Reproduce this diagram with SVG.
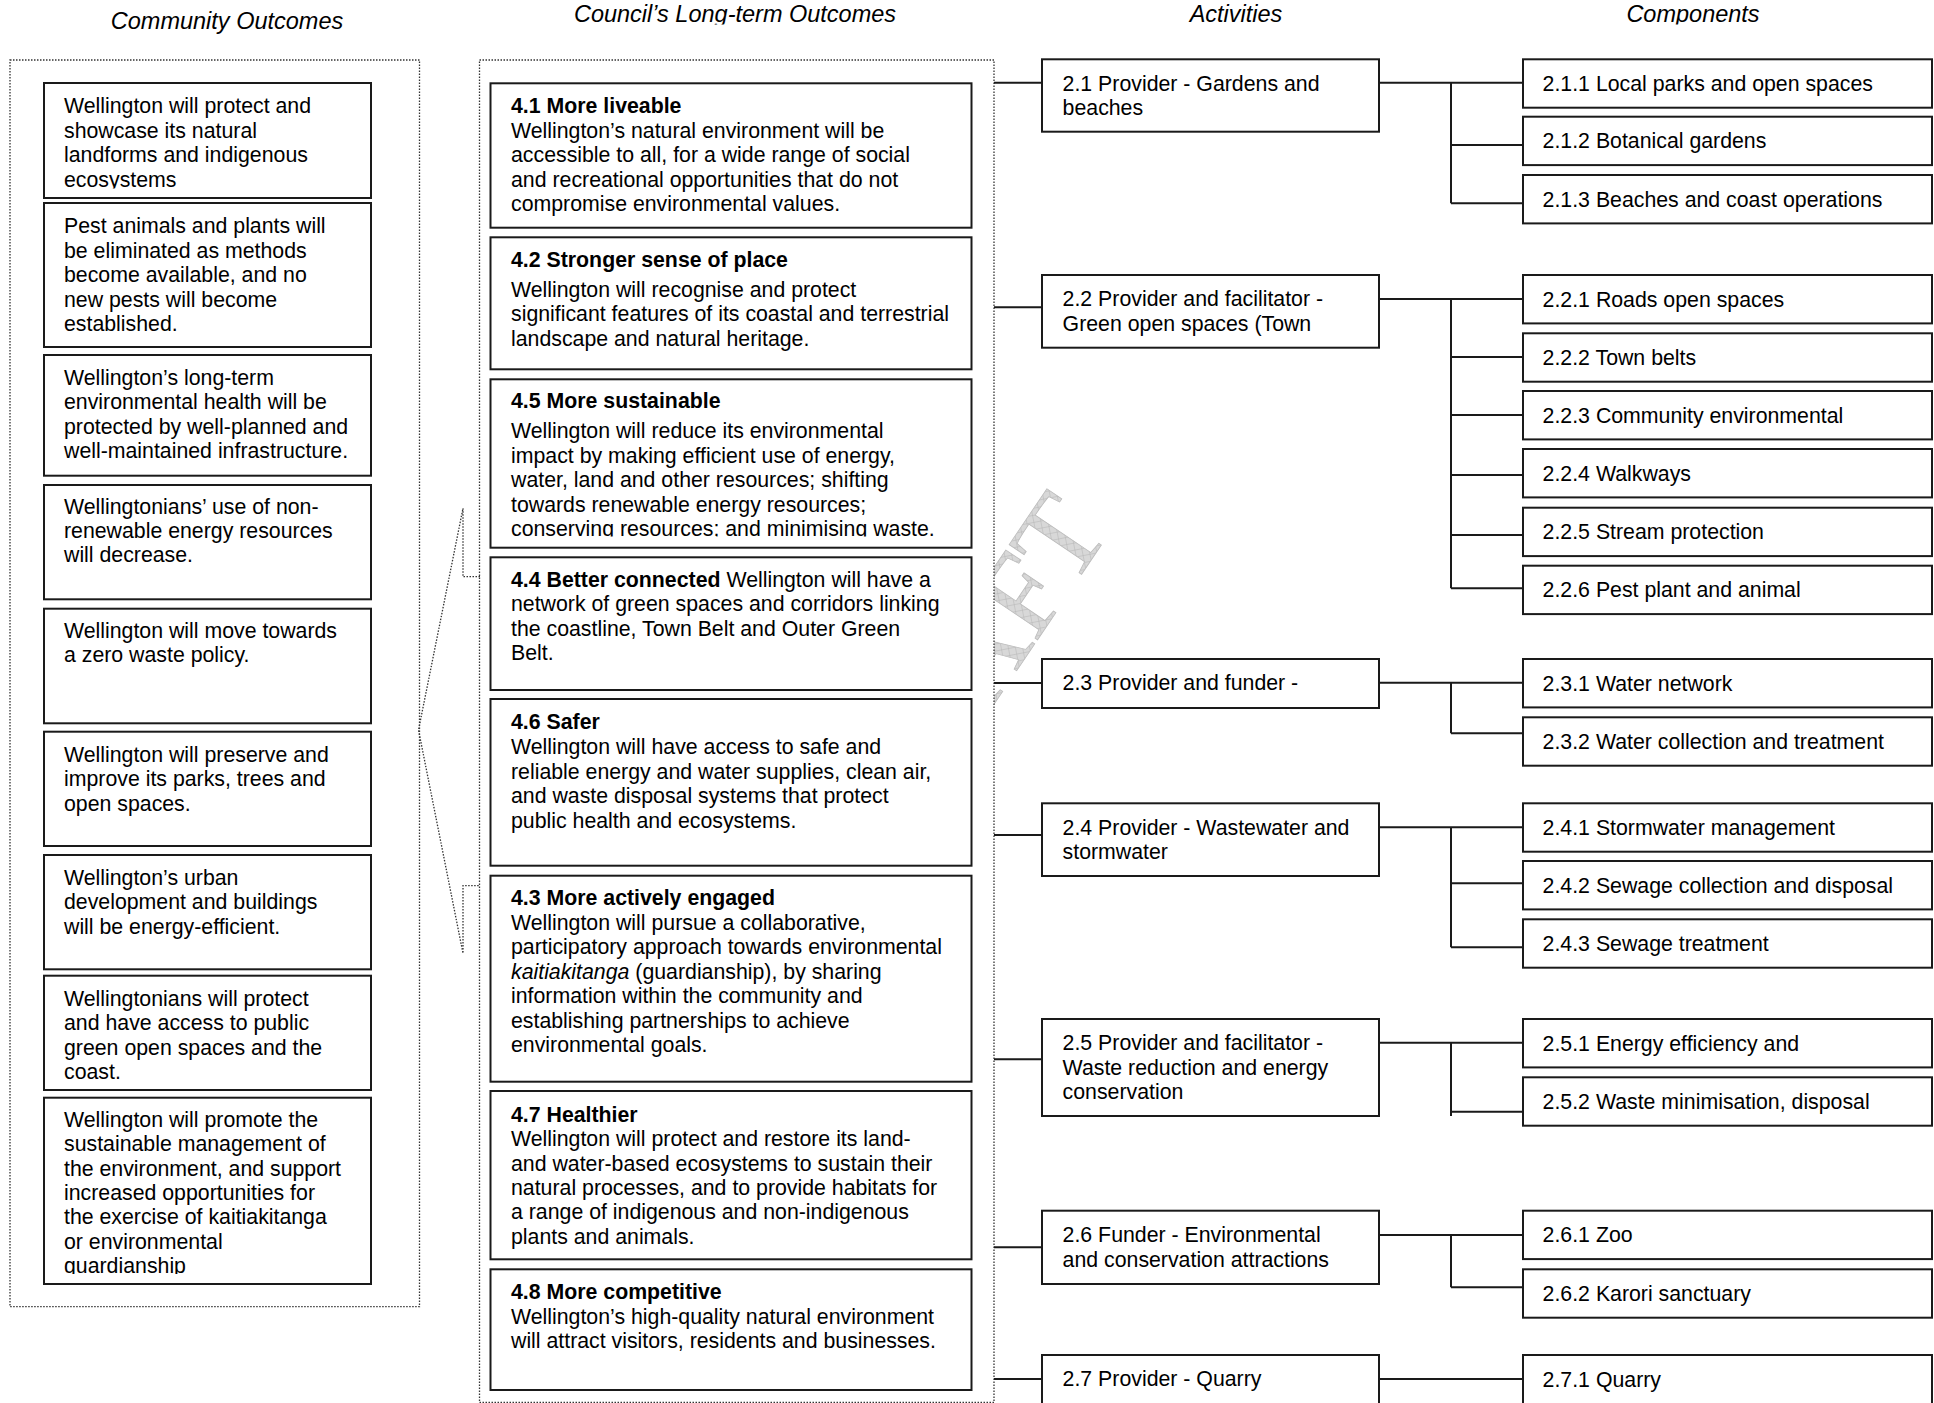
<svg xmlns="http://www.w3.org/2000/svg" width="1934" height="1403" viewBox="0 0 1934 1403">
<style>
.box{fill:#fff;stroke:#1a1a1a;stroke-width:2}
.dash{fill:#fff;stroke:#333;stroke-width:1.3;stroke-dasharray:1.5 1.5}
.dl{fill:none;stroke:#333;stroke-width:1.3;stroke-dasharray:1.5 1.5}
.t{font-family:"Liberation Sans",Arial,sans-serif;font-size:21.3px;fill:#000}
.b{font-weight:bold}
.h{font-family:"Liberation Sans",Arial,sans-serif;font-size:23.5px;font-style:italic;text-anchor:middle;fill:#000}
.conn{fill:none;stroke:#1a1a1a;stroke-width:2}
</style>
<defs>
<pattern id="hatch" width="7" height="7" patternUnits="userSpaceOnUse" patternTransform="rotate(45)">
<rect width="7" height="7" fill="#d8d8d8"/>
<path d="M0 0H7M0 0V7" stroke="#b4b4b4" stroke-width="1"/>
</pattern>
<clipPath id="cTitle"><rect x="0" y="0" width="1934" height="24.5"/></clipPath>
<clipPath id="cC1"><rect x="40" y="83" width="340" height="105.5"/></clipPath>
<clipPath id="cM5"><rect x="490" y="379" width="482" height="157.5"/></clipPath>
<clipPath id="cC9"><rect x="40" y="1097" width="340" height="177"/></clipPath>
</defs>

<!-- watermark -->
<text id="watermark" transform="translate(897,848) rotate(-56)" font-family="Liberation Serif,serif" font-size="117" fill="url(#hatch)" stroke="#bcbcbc" stroke-width="0.8">DRAFT</text>

<!-- column titles -->
<g id="titles">
<text class="h" x="227" y="29">Community Outcomes</text>
<g clip-path="url(#cTitle)">
<text class="h" x="735" y="21.5">Council’s Long-term Outcomes</text>
<text class="h" x="1236" y="21.5">Activities</text>
<text class="h" x="1693" y="21.5">Components</text>
</g>
</g>

<!-- containers -->
<rect id="community-container" class="dash" x="10" y="60" width="409.5" height="1246.7"/>
<rect id="council-container" class="dash" x="479.5" y="60" width="514.5" height="1342.5"/>

<!-- connectors -->
<g id="connectors">
<polyline class="dl" points="480,576.7 463,576.7 463,508.3 418.5,730 463,953.3 463,885.7 480,885.7"/>
<path class="conn" d="M994 82.7H1042M994 307.3H1042M994 683H1042M994 835H1042M994 1059.3H1042M994 1247.3H1042M994 1379H1042"/>
<path class="conn" d="M1379 82.7H1523M1451 82.7V203.3M1451 145H1523M1451 203.3H1523"/>
<path class="conn" d="M1379 299H1523M1451 299V588.3M1451 357H1523M1451 415H1523M1451 475H1523M1451 535H1523M1451 588.3H1523"/>
<path class="conn" d="M1379 682.7H1523M1451 682.7V733.3M1451 733.3H1523"/>
<path class="conn" d="M1379 827.3H1523M1451 827.3V947.3M1451 883.3H1523M1451 947.3H1523"/>
<path class="conn" d="M1379 1042.7H1523M1451 1042.7V1116M1451 1111.7H1523"/>
<path class="conn" d="M1379 1235H1523M1451 1235V1287.3M1451 1287.3H1523"/>
<path class="conn" d="M1379 1379H1523"/>
</g>

<!-- community outcomes -->
<g id="co1"><rect class="box" x="44" y="83" width="327" height="115"/>
<g clip-path="url(#cC1)"><text class="t"><tspan x="64" y="113.3">Wellington will protect and</tspan><tspan x="64" y="137.7">showcase its natural</tspan><tspan x="64" y="162.1">landforms and indigenous</tspan><tspan x="64" y="186.5">ecosystems</tspan></text></g></g>
<g id="co2"><rect class="box" x="44" y="203" width="327" height="144"/>
<text class="t"><tspan x="64" y="233.3">Pest animals and plants will</tspan><tspan x="64" y="257.7">be eliminated as methods</tspan><tspan x="64" y="282.1">become available, and no</tspan><tspan x="64" y="306.5">new pests will become</tspan><tspan x="64" y="330.9">established.</tspan></text></g>
<g id="co3"><rect class="box" x="44" y="355" width="327" height="120.7"/>
<text class="t"><tspan x="64" y="385">Wellington’s long-term</tspan><tspan x="64" y="409.4">environmental health will be</tspan><tspan x="64" y="433.8">protected by well-planned and</tspan><tspan x="64" y="458.2">well-maintained infrastructure.</tspan></text></g>
<g id="co4"><rect class="box" x="44" y="485" width="327" height="114.3"/>
<text class="t"><tspan x="64" y="513.5">Wellingtonians’ use of non-</tspan><tspan x="64" y="537.9">renewable energy resources</tspan><tspan x="64" y="562.3">will decrease.</tspan></text></g>
<g id="co5"><rect class="box" x="44" y="608.7" width="327" height="114.6"/>
<text class="t"><tspan x="64" y="637.7">Wellington will move towards</tspan><tspan x="64" y="662.1">a zero waste policy.</tspan></text></g>
<g id="co6"><rect class="box" x="44" y="731.7" width="327" height="114.3"/>
<text class="t"><tspan x="64" y="761.7">Wellington will preserve and</tspan><tspan x="64" y="786.1">improve its parks, trees and</tspan><tspan x="64" y="810.5">open spaces.</tspan></text></g>
<g id="co7"><rect class="box" x="44" y="855" width="327" height="114.3"/>
<text class="t"><tspan x="64" y="885">Wellington’s urban</tspan><tspan x="64" y="909.4">development and buildings</tspan><tspan x="64" y="933.8">will be energy-efficient.</tspan></text></g>
<g id="co8"><rect class="box" x="44" y="975.7" width="327" height="114.3"/>
<text class="t"><tspan x="64" y="1006">Wellingtonians will protect</tspan><tspan x="64" y="1030.4">and have access to public</tspan><tspan x="64" y="1054.8">green open spaces and the</tspan><tspan x="64" y="1079.2">coast.</tspan></text></g>
<g id="co9"><rect class="box" x="44" y="1097.7" width="327" height="186.3"/>
<g clip-path="url(#cC9)"><text class="t"><tspan x="64" y="1126.7">Wellington will promote the</tspan><tspan x="64" y="1151.1">sustainable management of</tspan><tspan x="64" y="1175.5">the environment, and support</tspan><tspan x="64" y="1199.9">increased opportunities for</tspan><tspan x="64" y="1224.3">the exercise of kaitiakitanga</tspan><tspan x="64" y="1248.7">or environmental</tspan><tspan x="64" y="1273.1">guardianship</tspan></text></g></g>

<!-- council outcomes -->
<g id="lt41"><rect class="box" x="490.5" y="83.3" width="481" height="144.4"/>
<text class="t"><tspan x="511" y="113.3" class="b">4.1 More liveable</tspan><tspan x="511" y="137.7">Wellington’s natural environment will be</tspan><tspan x="511" y="162.1">accessible to all, for a wide range of social</tspan><tspan x="511" y="186.5">and recreational opportunities that do not</tspan><tspan x="511" y="210.9">compromise environmental values.</tspan></text></g>
<g id="lt42"><rect class="box" x="490.5" y="237.3" width="481" height="132"/>
<text class="t"><tspan x="511" y="266.7" class="b">4.2 Stronger sense of place</tspan><tspan x="511" y="296.7">Wellington will recognise and protect</tspan><tspan x="511" y="321.1">significant features of its coastal and terrestrial</tspan><tspan x="511" y="345.5">landscape and natural heritage.</tspan></text></g>
<g id="lt45"><rect class="box" x="490.5" y="379.3" width="481" height="168.4"/>
<g clip-path="url(#cM5)"><text class="t"><tspan x="511" y="408.3" class="b">4.5 More sustainable</tspan><tspan x="511" y="438.3">Wellington will reduce its environmental</tspan><tspan x="511" y="462.7">impact by making efficient use of energy,</tspan><tspan x="511" y="487.1">water, land and other resources; shifting</tspan><tspan x="511" y="511.5">towards renewable energy resources;</tspan><tspan x="511" y="535.9">conserving resources; and minimising waste.</tspan></text></g></g>
<g id="lt44"><rect class="box" x="490.5" y="557.3" width="481" height="132.7"/>
<text class="t"><tspan x="511" y="586.7"><tspan class="b">4.4 Better connected</tspan> Wellington will have a</tspan><tspan x="511" y="611.1">network of green spaces and corridors linking</tspan><tspan x="511" y="635.5">the coastline, Town Belt and Outer Green</tspan><tspan x="511" y="659.9">Belt.</tspan></text></g>
<g id="lt46"><rect class="box" x="490.5" y="699" width="481" height="166.7"/>
<text class="t"><tspan x="511" y="729.3" class="b">4.6 Safer</tspan><tspan x="511" y="754.3">Wellington will have access to safe and</tspan><tspan x="511" y="778.7">reliable energy and water supplies, clean air,</tspan><tspan x="511" y="803.1">and waste disposal systems that protect</tspan><tspan x="511" y="827.5">public health and ecosystems.</tspan></text></g>
<g id="lt43"><rect class="box" x="490.5" y="875.7" width="481" height="206"/>
<text class="t"><tspan x="511" y="905" class="b">4.3 More actively engaged</tspan><tspan x="511" y="930">Wellington will pursue a collaborative,</tspan><tspan x="511" y="954.4">participatory approach towards environmental</tspan><tspan x="511" y="978.8"><tspan font-style="italic">kaitiakitanga</tspan> (guardianship), by sharing</tspan><tspan x="511" y="1003.2">information within the community and</tspan><tspan x="511" y="1027.6">establishing partnerships to achieve</tspan><tspan x="511" y="1052">environmental goals.</tspan></text></g>
<g id="lt47"><rect class="box" x="490.5" y="1091" width="481" height="168.3"/>
<text class="t"><tspan x="511" y="1121.7" class="b">4.7 Healthier</tspan><tspan x="511" y="1146.1">Wellington will protect and restore its land-</tspan><tspan x="511" y="1170.5">and water-based ecosystems to sustain their</tspan><tspan x="511" y="1194.9">natural processes, and to provide habitats for</tspan><tspan x="511" y="1219.3">a range of indigenous and non-indigenous</tspan><tspan x="511" y="1243.7">plants and animals.</tspan></text></g>
<g id="lt48"><rect class="box" x="490.5" y="1269.3" width="481" height="120.7"/>
<text class="t"><tspan x="511" y="1299.3" class="b">4.8 More competitive</tspan><tspan x="511" y="1323.7">Wellington’s high-quality natural environment</tspan><tspan x="511" y="1348.1">will attract visitors, residents and businesses.</tspan></text></g>

<!-- activities -->
<g id="a21"><rect class="box" x="1042" y="59.3" width="337" height="72.4"/><text class="t"><tspan x="1062.6" y="90.7">2.1 Provider - Gardens and</tspan><tspan x="1062.6" y="115">beaches</tspan></text></g>
<g id="a22"><rect class="box" x="1042" y="275" width="337" height="72.7"/><text class="t"><tspan x="1062.6" y="306.3">2.2 Provider and facilitator -</tspan><tspan x="1062.6" y="330.6">Green open spaces (Town</tspan></text></g>
<g id="a23"><rect class="box" x="1042" y="659" width="337" height="49"/><text class="t" x="1062.6" y="690.3">2.3 Provider and funder -</text></g>
<g id="a24"><rect class="box" x="1042" y="803.3" width="337" height="72.7"/><text class="t"><tspan x="1062.6" y="834.6">2.4 Provider - Wastewater and</tspan><tspan x="1062.6" y="858.9">stormwater</tspan></text></g>
<g id="a25"><rect class="box" x="1042" y="1019" width="337" height="97"/><text class="t"><tspan x="1062.6" y="1050.3">2.5 Provider and facilitator -</tspan><tspan x="1062.6" y="1074.6">Waste reduction and energy</tspan><tspan x="1062.6" y="1098.9">conservation</tspan></text></g>
<g id="a26"><rect class="box" x="1042" y="1210.7" width="337" height="73.3"/><text class="t"><tspan x="1062.6" y="1242.2">2.6 Funder - Environmental</tspan><tspan x="1062.6" y="1266.5">and conservation attractions</tspan></text></g>
<g id="a27"><rect class="box" x="1042" y="1355" width="337" height="49"/><text class="t" x="1062.6" y="1386.4">2.7 Provider - Quarry</text></g>

<!-- components -->
<g id="c211"><rect class="box" x="1523" y="59.3" width="409" height="48.4"/><text class="t" x="1542.6" y="90.8">2.1.1 Local parks and open spaces</text></g>
<g id="c212"><rect class="box" x="1523" y="116.7" width="409" height="48.4"/><text class="t" x="1542.6" y="148.2">2.1.2 Botanical gardens</text></g>
<g id="c213"><rect class="box" x="1523" y="175" width="409" height="48.4"/><text class="t" x="1542.6" y="206.5">2.1.3 Beaches and coast operations</text></g>
<g id="c221"><rect class="box" x="1523" y="275" width="409" height="48.4"/><text class="t" x="1542.6" y="306.5">2.2.1 Roads open spaces</text></g>
<g id="c222"><rect class="box" x="1523" y="333.3" width="409" height="48.4"/><text class="t" x="1542.6" y="364.8">2.2.2 Town belts</text></g>
<g id="c223"><rect class="box" x="1523" y="391" width="409" height="48.4"/><text class="t" x="1542.6" y="422.5">2.2.3 Community environmental</text></g>
<g id="c224"><rect class="box" x="1523" y="449" width="409" height="48.4"/><text class="t" x="1542.6" y="480.5">2.2.4 Walkways</text></g>
<g id="c225"><rect class="box" x="1523" y="507.7" width="409" height="48.4"/><text class="t" x="1542.6" y="539.2">2.2.5 Stream protection</text></g>
<g id="c226"><rect class="box" x="1523" y="565.7" width="409" height="48.4"/><text class="t" x="1542.6" y="597.2">2.2.6 Pest plant and animal</text></g>
<g id="c231"><rect class="box" x="1523" y="659" width="409" height="48.4"/><text class="t" x="1542.6" y="690.5">2.3.1 Water network</text></g>
<g id="c232"><rect class="box" x="1523" y="717.3" width="409" height="48.4"/><text class="t" x="1542.6" y="748.8">2.3.2 Water collection and treatment</text></g>
<g id="c241"><rect class="box" x="1523" y="803.3" width="409" height="48.4"/><text class="t" x="1542.6" y="834.8">2.4.1 Stormwater management</text></g>
<g id="c242"><rect class="box" x="1523" y="861" width="409" height="48.4"/><text class="t" x="1542.6" y="892.5">2.4.2 Sewage collection and disposal</text></g>
<g id="c243"><rect class="box" x="1523" y="919.3" width="409" height="48.4"/><text class="t" x="1542.6" y="950.8">2.4.3 Sewage treatment</text></g>
<g id="c251"><rect class="box" x="1523" y="1019" width="409" height="48.4"/><text class="t" x="1542.6" y="1050.5">2.5.1 Energy efficiency and</text></g>
<g id="c252"><rect class="box" x="1523" y="1077.3" width="409" height="48.4"/><text class="t" x="1542.6" y="1108.8">2.5.2 Waste minimisation, disposal</text></g>
<g id="c261"><rect class="box" x="1523" y="1210.7" width="409" height="48.4"/><text class="t" x="1542.6" y="1242.2">2.6.1 Zoo</text></g>
<g id="c262"><rect class="box" x="1523" y="1269.3" width="409" height="48.4"/><text class="t" x="1542.6" y="1300.8">2.6.2 Karori sanctuary</text></g>
<g id="c271"><rect class="box" x="1523" y="1355" width="409" height="49"/><text class="t" x="1542.6" y="1386.5">2.7.1 Quarry</text></g>
</svg>
